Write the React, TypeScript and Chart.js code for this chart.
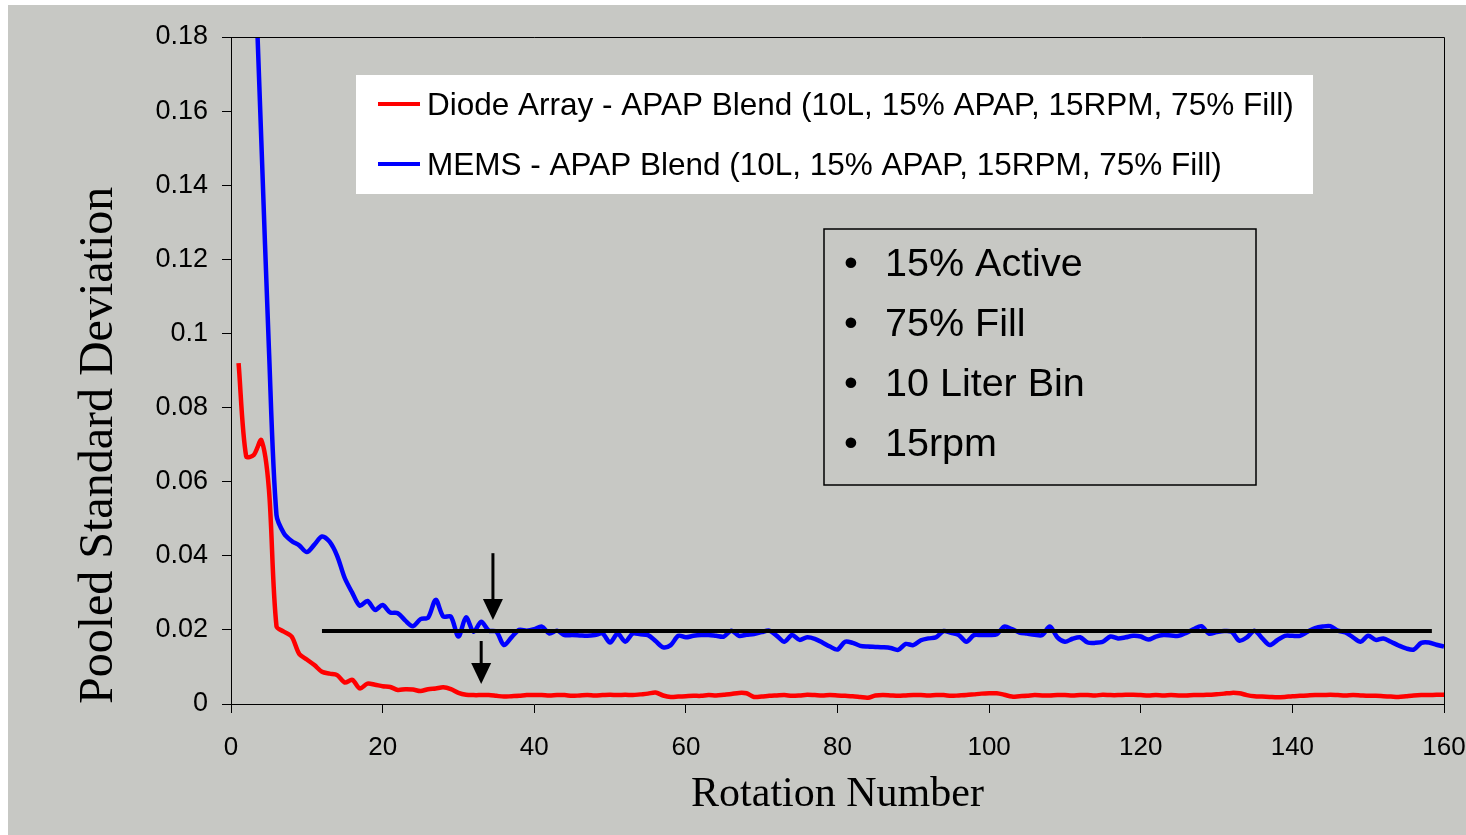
import { useEffect, useRef } from 'react';
import { Chart, registerables } from 'chart.js';

Chart.register(...registerables);

// ---------- data ----------
const rotations: number[] = Array.from({ length: 160 }, (_, i) => i + 1);

const diodeArray: number[] = [
  0.092, 0.0668, 0.0672, 0.0712, 0.058, 0.021, 0.0195, 0.0182, 0.0135, 0.012,
  0.0105, 0.0087, 0.0082, 0.0078, 0.0058, 0.0065, 0.0042, 0.0055, 0.0052, 0.0048,
  0.0046, 0.0038, 0.004, 0.0039, 0.0035, 0.004, 0.0042, 0.0045, 0.004, 0.003,
  0.0025, 0.0024, 0.0024, 0.0024, 0.0022, 0.002, 0.0021, 0.0022, 0.0024, 0.0024,
  0.0024, 0.0023, 0.0024, 0.0024, 0.0022, 0.0023, 0.0024, 0.0023, 0.0024, 0.0025,
  0.0024, 0.0025, 0.0024, 0.0026, 0.0028, 0.0031, 0.0023, 0.0019, 0.002, 0.0021,
  0.0022, 0.0022, 0.0024, 0.0023, 0.0025, 0.0027, 0.003, 0.0029, 0.0019, 0.002,
  0.0022, 0.0023, 0.0024, 0.0022, 0.0023, 0.0025, 0.0024, 0.0023, 0.0024, 0.0023,
  0.0022, 0.0021, 0.0019, 0.0017, 0.0023, 0.0024, 0.0023, 0.0022, 0.0023, 0.0024,
  0.0024, 0.0023, 0.0024, 0.0024, 0.0022, 0.0023, 0.0024, 0.0026, 0.0028, 0.0029,
  0.0029, 0.0025, 0.002, 0.0021, 0.0022, 0.0024, 0.0023, 0.0023, 0.0024, 0.0024,
  0.0023, 0.0024, 0.0024, 0.0023, 0.0025, 0.0024, 0.0024, 0.0025, 0.0025, 0.0024,
  0.0023, 0.0024, 0.0023, 0.0024, 0.0023, 0.0023, 0.0024, 0.0024, 0.0025, 0.0026,
  0.0028, 0.003, 0.0029, 0.0024, 0.0021, 0.002, 0.0019, 0.0018, 0.0019, 0.0021,
  0.0022, 0.0023, 0.0024, 0.0024, 0.0025, 0.0024, 0.0023, 0.0024, 0.0023, 0.0022,
  0.0022, 0.0021, 0.002, 0.0019, 0.0021, 0.0023, 0.0024, 0.0024, 0.0025, 0.0025,
];

const mems: number[] = [
  0.3, 0.258, 0.208, 0.152, 0.096, 0.051, 0.046, 0.044, 0.0428, 0.041,
  0.043, 0.0452, 0.0438, 0.04, 0.034, 0.03, 0.0265, 0.0278, 0.0254, 0.0267,
  0.0247, 0.0245, 0.0225, 0.021, 0.0229, 0.0233, 0.0281, 0.0236, 0.0236, 0.0182,
  0.0234, 0.0195, 0.0222, 0.0198, 0.0195, 0.0159, 0.018, 0.02, 0.0198, 0.0202,
  0.0209, 0.019, 0.0198, 0.0186, 0.0186, 0.0185, 0.0184, 0.0186, 0.019, 0.0166,
  0.019, 0.0168, 0.019, 0.0188, 0.0186, 0.017, 0.0153, 0.0159, 0.0184, 0.018,
  0.0184, 0.0186, 0.0186, 0.0184, 0.0182, 0.0198, 0.0184, 0.0187, 0.0189, 0.0194,
  0.0198, 0.0184, 0.0168, 0.0186, 0.0173, 0.018, 0.0176, 0.0166, 0.0155, 0.0147,
  0.0168, 0.0165, 0.0157, 0.0155, 0.0154, 0.0153, 0.0151, 0.0146, 0.0162, 0.0159,
  0.0172, 0.0177, 0.018, 0.0197, 0.0192, 0.0186, 0.0168, 0.0186, 0.0186, 0.0186,
  0.0188, 0.0209, 0.0202, 0.0193, 0.019, 0.0187, 0.0186, 0.0209, 0.018, 0.0168,
  0.0176, 0.018, 0.0166, 0.0165, 0.0168, 0.0182, 0.0177, 0.018, 0.0184, 0.0182,
  0.0174, 0.0182, 0.0186, 0.0185, 0.0184, 0.0192, 0.0202, 0.021, 0.019, 0.0194,
  0.0197, 0.0195, 0.0171, 0.018, 0.0198, 0.0178, 0.0159, 0.0172, 0.0184, 0.0184,
  0.0184, 0.0195, 0.0205, 0.0209, 0.021, 0.0198, 0.0193, 0.018, 0.0168, 0.0184,
  0.0173, 0.0177, 0.0168, 0.0158, 0.015, 0.0147, 0.0165, 0.0166, 0.016, 0.0155,
];

const seriesLabels: string[] = [
  'Diode Array - APAP Blend (10L, 15% APAP, 15RPM, 75% Fill)',
  'MEMS - APAP Blend (10L, 15% APAP, 15RPM, 75% Fill)',
];
const seriesColors: string[] = ['#ff0000', '#0000ff'];

const yTickValues: number[] = [0, 0.02, 0.04, 0.06, 0.08, 0.1, 0.12, 0.14, 0.16, 0.18];
const yTickLabels: string[] = ['0', '0.02', '0.04', '0.06', '0.08', '0.1', '0.12', '0.14', '0.16', '0.18'];
const xTickLabels: string[] = ['0', '20', '40', '60', '80', '100', '120', '140', '160'];

const bulletItems: string[] = ['15% Active', '75% Fill', '10 Liter Bin', '15rpm'];

// threshold line and arrows (in data units)
const thresholdX: number[] = [12, 158.4];
const thresholdY = 0.0197;
const arrowX: number[] = [34.55, 33.0];
const arrowFrom: number[] = [0.0407, 0.017];
const arrowTo: number[] = [0.0227, 0.0054];

const BG = '#c7c8c4';
const SANS = "'Liberation Sans', Arial, sans-serif";
const SERIF = "'Liberation Serif', 'Times New Roman', serif";

const decorPlugin = {
  id: 'decor',
  beforeDraw(chart: any) {
    const { ctx, width, height } = chart;
    ctx.save();
    ctx.fillStyle = BG;
    ctx.fillRect(0, 0, width, height);
    ctx.restore();
  },
  afterDatasetsDraw(chart: any) {
    const { ctx } = chart;
    const xs = chart.scales.x;
    const ys = chart.scales.y;
    ctx.save();
    // threshold line
    ctx.strokeStyle = '#000';
    ctx.lineWidth = 4;
    ctx.lineCap = 'butt';
    ctx.beginPath();
    ctx.moveTo(xs.getPixelForValue(thresholdX[0]), ys.getPixelForValue(thresholdY));
    ctx.lineTo(xs.getPixelForValue(thresholdX[1]), ys.getPixelForValue(thresholdY));
    ctx.stroke();
    // arrows
    for (let i = 0; i < arrowX.length; i++) {
      const x = xs.getPixelForValue(arrowX[i]);
      const y0 = ys.getPixelForValue(arrowFrom[i]);
      const y1 = ys.getPixelForValue(arrowTo[i]);
      const head = 21;
      ctx.lineWidth = 3;
      ctx.beginPath();
      ctx.moveTo(x, y0);
      ctx.lineTo(x, y1 - head + 2);
      ctx.stroke();
      ctx.fillStyle = '#000';
      ctx.beginPath();
      ctx.moveTo(x - 10, y1 - head);
      ctx.lineTo(x + 10, y1 - head);
      ctx.lineTo(x, y1);
      ctx.closePath();
      ctx.fill();
    }
    ctx.restore();
  },
  afterDraw(chart: any) {
    const { ctx, chartArea } = chart;
    ctx.save();
    // plot frame (top and right)
    ctx.strokeStyle = '#000';
    ctx.lineWidth = 1;
    ctx.beginPath();
    ctx.moveTo(Math.round(chartArea.left) + 0.5, Math.round(chartArea.top) + 0.5);
    ctx.lineTo(Math.round(chartArea.right) + 0.5, Math.round(chartArea.top) + 0.5);
    ctx.lineTo(Math.round(chartArea.right) + 0.5, Math.round(chartArea.bottom) + 0.5);
    ctx.stroke();

    // legend box
    const lx = chartArea.left + 125;
    const ly = chartArea.top + 38;
    ctx.fillStyle = '#ffffff';
    ctx.fillRect(lx, ly, 957, 119);
    ctx.font = `31.5px ${SANS}`;
    ctx.textBaseline = 'middle';
    ctx.textAlign = 'left';
    chart.data.datasets.forEach((ds: any, i: number) => {
      const rowY = ly + 30 + i * 60;
      ctx.strokeStyle = ds.borderColor;
      ctx.lineWidth = 4;
      ctx.beginPath();
      ctx.moveTo(lx + 22, rowY - 1);
      ctx.lineTo(lx + 64, rowY - 1);
      ctx.stroke();
      ctx.fillStyle = '#000';
      ctx.fillText(ds.label, lx + 71, rowY + 1);
    });

    // annotation text box
    const bx = chartArea.left + 593;
    const by = chartArea.top + 192;
    ctx.strokeStyle = '#000';
    ctx.lineWidth = 1.5;
    ctx.strokeRect(bx, by, 432, 256);
    ctx.fillStyle = '#000';
    ctx.font = `39.5px ${SANS}`;
    bulletItems.forEach((t, i) => {
      const rowY = by + 36 + i * 60;
      ctx.textAlign = 'center';
      ctx.fillText('\u2022', bx + 27, rowY);
      ctx.textAlign = 'left';
      ctx.fillText(t, bx + 61, rowY);
    });
    ctx.restore();
  },
};

export default function App() {
  const canvasRef = useRef<HTMLCanvasElement | null>(null);

  useEffect(() => {
    if (!canvasRef.current) return;
    const chart = new Chart(canvasRef.current, {
      type: 'line',
      data: {
        datasets: [
          {
            label: seriesLabels[0],
            data: rotations.map((r, i) => ({ x: r, y: diodeArray[i] })),
            borderColor: seriesColors[0],
            backgroundColor: seriesColors[0],
            borderWidth: 4.5,
            pointRadius: 0,
            tension: 0.3,
          },
          {
            label: seriesLabels[1],
            data: rotations.map((r, i) => ({ x: r, y: mems[i] })),
            borderColor: seriesColors[1],
            backgroundColor: seriesColors[1],
            borderWidth: 4.5,
            pointRadius: 0,
            tension: 0.3,
          },
        ],
      },
      options: {
        responsive: false,
        animation: false,
        events: [],
        layout: { padding: { left: 63, right: 22, top: 32, bottom: 15 } },
        plugins: {
          legend: { display: false },
          tooltip: { enabled: false },
        },
        scales: {
          x: {
            type: 'linear',
            min: 0,
            max: 160,
            afterFit: (scale: any) => {
              scale.height = 116;
              scale.paddingLeft = 0;
              scale.paddingRight = 0;
            },
            afterBuildTicks: (scale: any) => {
              scale.ticks = xTickLabels.map((l) => ({ value: Number(l) }));
            },
            ticks: {
              callback: (v: any) => xTickLabels[xTickLabels.indexOf(String(v))] ?? '',
              color: '#000',
              font: { family: SANS, size: 26 },
              padding: 19,
              maxRotation: 0,
            },
            grid: {
              display: true,
              drawOnChartArea: false,
              drawTicks: true,
              tickLength: 9,
              color: '#000',
            },
            border: { display: true, color: '#000', width: 1 },
            title: {
              display: true,
              text: 'Rotation Number',
              color: '#000',
              font: { family: SERIF, size: 42 },
              padding: 0,
            },
          },
          y: {
            type: 'linear',
            min: 0,
            max: 0.18,
            afterFit: (scale: any) => {
              scale.width = 160;
              scale.paddingTop = 0;
              scale.paddingBottom = 0;
            },
            afterBuildTicks: (scale: any) => {
              scale.ticks = yTickValues.map((v) => ({ value: v }));
            },
            ticks: {
              callback: (v: any, i: number) => yTickLabels[i],
              color: '#000',
              font: { family: SANS, size: 27 },
              padding: 14,
            },
            grid: {
              display: true,
              drawOnChartArea: false,
              drawTicks: true,
              tickLength: 9,
              color: '#000',
            },
            border: { display: true, color: '#000', width: 1 },
            title: {
              display: true,
              text: 'Pooled Standard Deviation',
              align: 'start',
              color: '#000',
              font: { family: SERIF, size: 48 },
              padding: 0,
            },
          },
        },
      },
      plugins: [decorPlugin],
    } as any);
    return () => chart.destroy();
  }, []);

  return (
    <canvas
      ref={canvasRef}
      width={1458}
      height={830}
      style={{ display: 'block', position: 'fixed', left: 8, top: 5 }}
    />
  );
}
